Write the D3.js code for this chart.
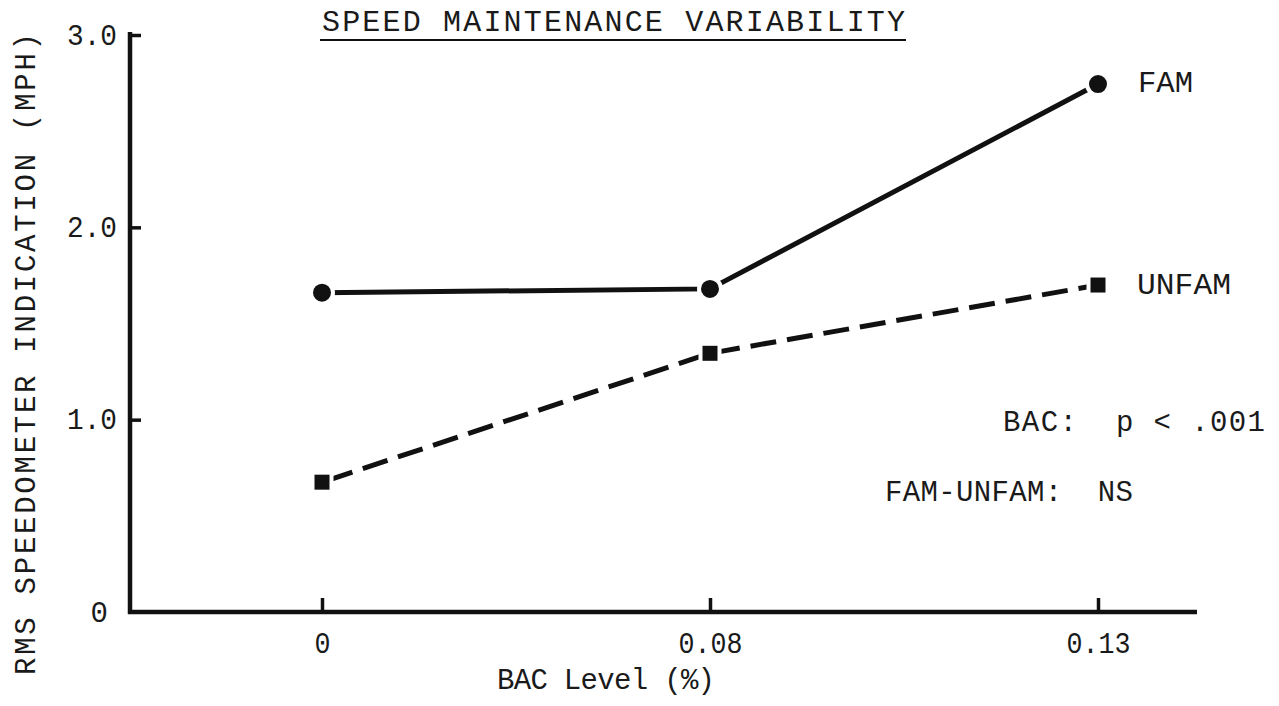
<!DOCTYPE html>
<html>
<head>
<meta charset="utf-8">
<script src="https://cdn.jsdelivr.net/npm/d3@7"></script>
<style>
  html, body { margin: 0; padding: 0; background: #fff; }
  svg { display: block; }
  text { font-family: "Liberation Mono", "DejaVu Sans Mono", monospace; fill: #1a1a1a; }
</style>
</head>
<body>
<svg id="chart" width="1279" height="706"></svg>
<script>
// ---- Data ----
const categories = ["0", "0.08", "0.13"];
const famValues = [1.66, 1.68, 2.745];
const unfamValues = [0.675, 1.345, 1.70];
const yTickValues = [0, 1, 2, 3];
const yTickLabels = ["0", "1.0", "2.0", "3.0"];
const seriesNames = ["FAM", "UNFAM"];
const titleText = "SPEED MAINTENANCE VARIABILITY";
const xTitle = "BAC Level (%)";
const yTitle = "RMS SPEEDOMETER INDICATION (MPH)";
const statLines = ["BAC:  p < .001", "FAM-UNFAM:  NS"];

// ---- Layout ----
const svg = d3.select("#chart");
const axisX0 = 130, axisY0 = 612;
const fs = 29;

const x = d3.scalePoint().domain(categories).range([322, 1098]);
const y = d3.scaleLinear().domain([0, 3]).range([axisY0, 35]);

const ink = "#111";

// Y axis
const yAxis = d3.axisLeft(y)
  .tickValues(yTickValues.filter(v => v > 0))
  .tickFormat((d) => yTickLabels[yTickValues.indexOf(d)])
  .tickSizeInner(-11).tickSizeOuter(0).tickPadding(13);
const gy = svg.append("g").attr("transform", `translate(${axisX0},0)`).call(yAxis);
gy.select(".domain").remove();
gy.selectAll(".tick line").attr("stroke", ink).attr("stroke-width", 3.5);
gy.selectAll(".tick text").attr("font-size", fs).attr("fill", "#1a1a1a")
  .attr("textLength", 50).attr("lengthAdjust", "spacingAndGlyphs");

// zero label on y
svg.append("text").attr("x", 108).attr("y", y(0)).attr("dy", "0.35em")
  .attr("text-anchor", "end").attr("font-size", fs).text(yTickLabels[0]);

// X axis
const xAxis = d3.axisBottom(x).tickSizeInner(-14).tickSizeOuter(0).tickPadding(20);
const gx = svg.append("g").attr("transform", `translate(0,${axisY0})`).call(xAxis);
gx.select(".domain").remove();
gx.selectAll(".tick line").attr("stroke", ink).attr("stroke-width", 3.5);
gx.selectAll(".tick text").attr("font-size", fs).attr("fill", "#1a1a1a")
  .attr("textLength", d => d.length * 16).attr("lengthAdjust", "spacingAndGlyphs");

// axis lines
svg.append("line").attr("x1", axisX0).attr("x2", axisX0)
  .attr("y1", axisY0 + 2).attr("y2", y(3) - 3)
  .attr("stroke", ink).attr("stroke-width", 4.5);
svg.append("line").attr("x1", axisX0 - 2).attr("x2", 1197)
  .attr("y1", axisY0).attr("y2", axisY0)
  .attr("stroke", ink).attr("stroke-width", 4.5);

// Series lines
const line = d3.line().x((d, i) => x(categories[i])).y(d => y(d));
svg.append("path").datum(famValues).attr("d", line)
  .attr("fill", "none").attr("stroke", ink).attr("stroke-width", 5);
svg.append("path").datum(unfamValues).attr("d", line)
  .attr("fill", "none").attr("stroke", ink).attr("stroke-width", 5)
  .attr("stroke-dasharray", "26,11").attr("stroke-dashoffset", -6);

// Markers
svg.selectAll("circle.fam").data(famValues).enter().append("circle")
  .attr("class", "fam")
  .attr("cx", (d, i) => x(categories[i])).attr("cy", d => y(d)).attr("r", 11)
  .attr("fill", ink).attr("stroke", "#fff").attr("stroke-width", 4);
const sq = 19;
svg.selectAll("rect.unfam").data(unfamValues).enter().append("rect")
  .attr("class", "unfam")
  .attr("x", (d, i) => x(categories[i]) - sq / 2).attr("y", d => y(d) - sq / 2)
  .attr("width", sq).attr("height", sq)
  .attr("fill", ink).attr("stroke", "#fff").attr("stroke-width", 4);

// Series labels
svg.append("text").attr("x", 1138).attr("y", y(famValues[2]) - 2).attr("dy", "0.35em")
  .attr("font-size", fs).attr("textLength", 55).attr("lengthAdjust", "spacingAndGlyphs").text(seriesNames[0]);
svg.append("text").attr("x", 1137).attr("y", y(unfamValues[2]) - 1).attr("dy", "0.35em")
  .attr("font-size", fs).attr("textLength", 94).attr("lengthAdjust", "spacingAndGlyphs").text(seriesNames[1]);

// Stats text
svg.append("text").attr("x", 1265).attr("y", 431).attr("text-anchor", "end")
  .attr("font-size", fs).attr("textLength", 262).attr("lengthAdjust", "spacing")
  .style("white-space", "pre").text(statLines[0]);
svg.append("text").attr("x", 1133).attr("y", 501).attr("text-anchor", "end")
  .attr("font-size", fs).attr("textLength", 248).attr("lengthAdjust", "spacing")
  .style("white-space", "pre").text(statLines[1]);

// Title
svg.append("text").attr("x", 322).attr("y", 31)
  .attr("font-size", 30).attr("textLength", 583).attr("lengthAdjust", "spacing").text(titleText);
svg.append("line").attr("x1", 320).attr("x2", 906).attr("y1", 40).attr("y2", 40)
  .attr("stroke", ink).attr("stroke-width", 2);

// Axis titles
svg.append("text").attr("x", 606).attr("y", 689).attr("text-anchor", "middle")
  .attr("font-size", fs).attr("textLength", 218).attr("lengthAdjust", "spacing").text(xTitle);
svg.append("text").attr("transform", "translate(35,354) rotate(-90)")
  .attr("text-anchor", "middle")
  .attr("font-size", fs).attr("textLength", 642).attr("lengthAdjust", "spacing").text(yTitle);
</script>
</body>
</html>
